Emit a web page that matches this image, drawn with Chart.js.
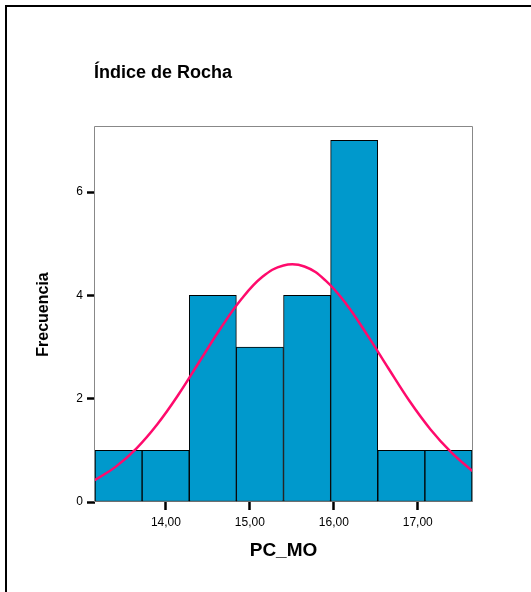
<!DOCTYPE html>
<html>
<head>
<meta charset="utf-8">
<title>Índice de Rocha</title>
<script src="https://cdn.jsdelivr.net/npm/chart.js@4/dist/chart.umd.min.js"></script>
<style>
  html, body { margin: 0; padding: 0; background: #fff; }
  #wrap { position: relative; width: 531px; height: 592px; }
</style>
</head>
<body>
<div id="wrap"><canvas id="hist"></canvas></div>
<script>
// Histogram bins (lower edge of each bin) and counts
const binLow = [13.155, 13.716, 14.278, 14.839, 15.401, 15.962, 16.524, 17.085];
const binWidth = 0.5615;
const counts = [1, 1, 4, 3, 4, 7, 1, 1];

// Normal curve overlay, sampled along PC_MO
const curveX = [13.15, 13.4, 13.65, 13.9, 14.15, 14.4, 14.65, 14.9, 15.15, 15.4,
                15.65, 15.9, 16.15, 16.4, 16.65, 16.9, 17.15, 17.4, 17.65];
const curveY = [0.42, 0.68, 1.04, 1.51, 2.08, 2.72, 3.36, 3.93, 4.36, 4.58,
                4.56, 4.29, 3.83, 3.23, 2.59, 1.96, 1.41, 0.96, 0.60];

const xTicks = [14, 15, 16, 17];
const yTicks = [0, 2, 4, 6];
const xMin = 13.155, xMax = 17.6465, yMax = 7.26;

const FONT = '"Liberation Sans", Arial, sans-serif';

// outer frame + heading, drawn straight on the canvas
const decor = {
  id: 'decor',
  beforeDraw(chart) {
    const ctx = chart.ctx;
    ctx.save();
    ctx.fillStyle = '#000';
    ctx.fillRect(5, 5, 2, chart.height);
    ctx.fillRect(5, 5, chart.width, 2);
    ctx.font = 'bold 18px ' + FONT;
    ctx.textBaseline = 'alphabetic';
    ctx.fillText('Índice de Rocha', 94, 78);
    ctx.restore();
  },
  afterDatasetsDraw(chart) {
    const {ctx, chartArea: a} = chart;
    ctx.save();
    ctx.strokeStyle = '#888';
    ctx.lineWidth = 1;
    ctx.beginPath();
    ctx.moveTo(a.left - 0.5, a.bottom);
    ctx.lineTo(a.left - 0.5, a.top - 0.5);
    ctx.lineTo(a.right + 0.5, a.top - 0.5);
    ctx.lineTo(a.right + 0.5, a.bottom);
    ctx.stroke();
    ctx.restore();
  }
};

new Chart(document.getElementById('hist'), {
  data: {
    datasets: [
      {
        type: 'line',
        label: 'Normal',
        data: curveX.map((x, i) => ({x, y: curveY[i]})),
        borderColor: '#ff0a6c',
        borderWidth: 2.5,
        pointRadius: 0,
        tension: 0.4,
        order: 0
      },
      {
        type: 'bar',
        label: 'Frecuencia',
        data: binLow.map((lo, i) => ({x: lo + binWidth / 2, y: counts[i]})),
        backgroundColor: '#0099cc',
        borderColor: '#000',
        borderWidth: 1,
        borderSkipped: false,
        barPercentage: 1,
        categoryPercentage: 1,
        order: 1
      }
    ]
  },
  options: {
    responsive: true,
    maintainAspectRatio: false,
    animation: false,
    layout: { padding: { top: 127, right: 59, bottom: 0, left: 0 } },
    plugins: { legend: { display: false }, tooltip: { enabled: false } },
    scales: {
      x: {
        type: 'linear',
        offset: false,
        min: xMin,
        max: xMax,
        afterBuildTicks: s => { s.ticks = xTicks.map(v => ({value: v})); },
        afterFit: s => { s.height = 90; },
        border: { display: false },
        grid: { offset: false, drawOnChartArea: false, drawTicks: true, tickLength: 8, tickColor: '#000', tickWidth: 2.5 },
        ticks: {
          padding: 5,
          color: '#000',
          font: { family: FONT, size: 12 },
          callback: v => v.toFixed(2).replace('.', ',')
        },
        title: {
          display: true,
          text: 'PC_MO',
          color: '#000',
          font: { family: FONT, size: 19, weight: 'bold' },
          padding: { top: 0, bottom: 30 }
        }
      },
      y: {
        min: 0,
        max: yMax,
        afterBuildTicks: s => { s.ticks = yTicks.map(v => ({value: v})); },
        afterFit: s => { s.width = 95; },
        border: { display: false },
        grid: { drawOnChartArea: false, drawTicks: true, tickLength: 8, tickColor: '#000', tickWidth: 2.5 },
        ticks: {
          padding: 4,
          color: '#000',
          font: { family: FONT, size: 12 }
        },
        title: {
          display: true,
          text: 'Frecuencia',
          color: '#000',
          font: { family: FONT, size: 16, weight: 'bold' },
          padding: { top: 34, bottom: 0 }
        }
      }
    }
  },
  plugins: [decor]
});
</script>
</body>
</html>
